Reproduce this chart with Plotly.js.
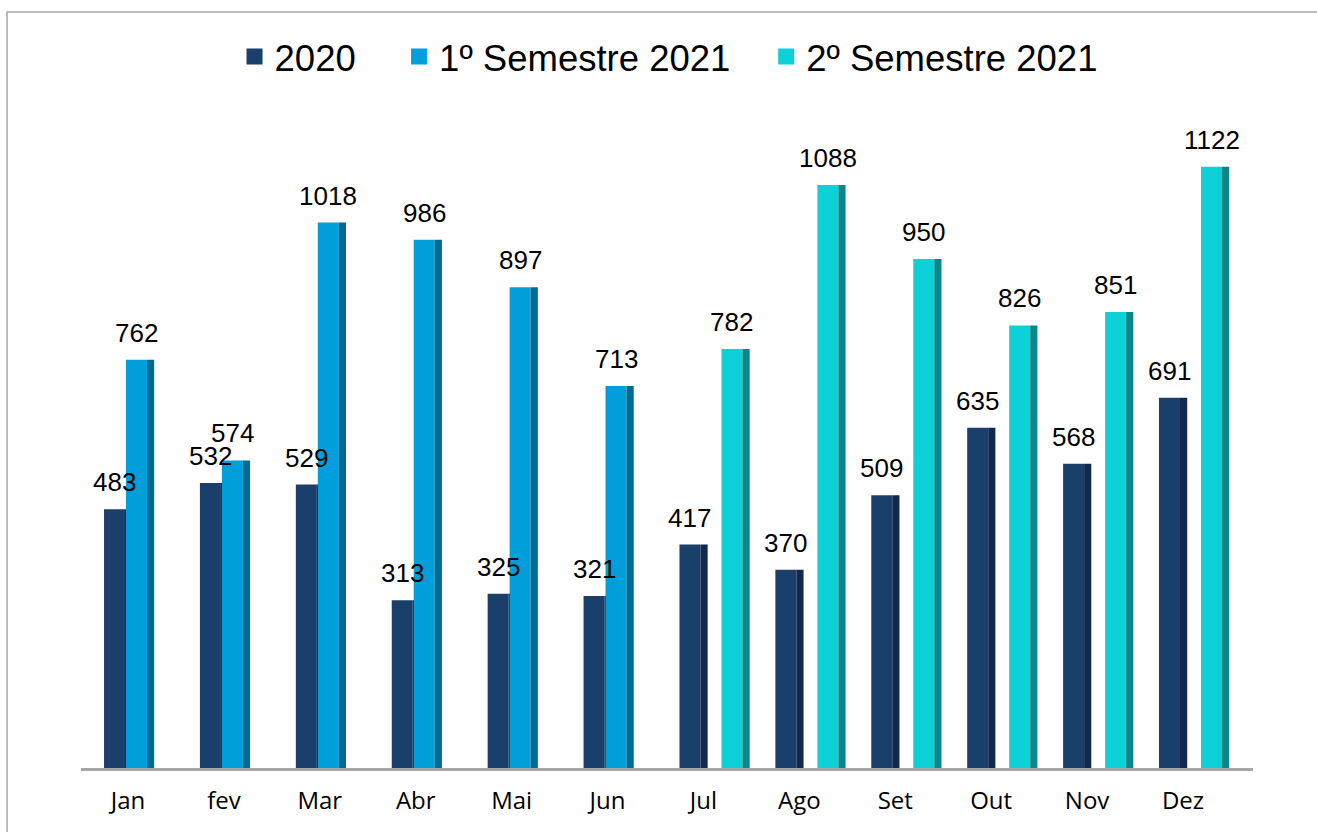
<!DOCTYPE html>
<html>
<head>
<meta charset="utf-8">
<script src="https://cdn.plot.ly/plotly-3.0.1.min.js"></script>
<style>html,body{margin:0;padding:0;background:#fff;}#chart{width:1317px;height:832px;}</style>
</head>
<body>
<div id="chart"></div>
<script>
// ---- data ----
const months = ["Jan","fev","Mar","Abr","Mai","Jun","Jul","Ago","Set","Out","Nov","Dez"];
const seriesNames = ["2020","1º Semestre 2021","2º Semestre 2021"];
const v2020 = [483,532,529,313,325,321,417,370,509,635,568,691];
const v2021s1 = [762,574,1018,986,897,713,null,null,null,null,null,null];
const v2021s2 = [null,null,null,null,null,null,782,1088,950,826,851,1122];

// ---- style ----
const faceColors = ["#1a3f6b","#009fdb","#0cd1d9"];
const sideColors = ["#112a4a","#006b8e","#0a8788"];
const faceOffsets = [-0.250,-0.021,0.188];
const faceW = 0.219, sideW = 0.075;
const legendIds = ["legend","legend2","legend3"];
const legendX = [0.131, 0.2714, 0.5846];

const xs = months.map((m,i)=>i);
const allSeries = [v2020, v2021s1, v2021s2];
const traces = [];
const annotations = [];
allSeries.forEach((vals,s)=>{
  traces.push({type:"bar", x:xs, y:vals, offset:faceOffsets[s], width:faceW,
    marker:{color:faceColors[s], line:{width:0}}, showlegend:false, hoverinfo:"y"});
  traces.push({type:"bar", x:xs, y:vals, offset:faceOffsets[s]+faceW, width:sideW,
    marker:{color:sideColors[s], line:{width:0}}, showlegend:false, hoverinfo:"skip"});
  vals.forEach((v,i)=>{
    if(v===null) return;
    annotations.push({x:i+faceOffsets[s]+faceW/2, y:v, xref:"x", yref:"y", text:String(v),
      showarrow:false, yanchor:"bottom", xanchor:"center", yshift:10,
      font:{family:"Liberation Sans, Arial", size:26, color:"#000"}});
  });
});
// legend entries
seriesNames.forEach((n,s)=>{
  traces.push({type:"scatter", mode:"markers", x:[null], y:[null], name:n, legend:legendIds[s],
    marker:{symbol:"square", size:20, color:faceColors[s]}, showlegend:true, hoverinfo:"skip"});
});

const legendBase = {orientation:"h", xanchor:"left", y:1.106, yanchor:"middle",
    font:{family:"Liberation Sans, Arial", size:36.5, color:"#000"},
    itemsizing:"trace", bgcolor:"rgba(0,0,0,0)"};

const layout = {
  width:1317, height:832,
  margin:{l:81, r:64, t:125, b:64},
  paper_bgcolor:"#ffffff", plot_bgcolor:"#ffffff",
  barmode:"overlay",
  showlegend:true,
  legend:Object.assign({}, legendBase, {x:legendX[0]}),
  legend2:Object.assign({}, legendBase, {x:legendX[1]}),
  legend3:Object.assign({}, legendBase, {x:legendX[2]}),
  xaxis:{range:[-0.49,11.73], tickvals:xs, ticktext:months, showgrid:false, zeroline:false,
    showline:true, linecolor:"#a6a6a6", linewidth:2.5, ticks:"", fixedrange:true,
    ticklabelstandoff:10,
    tickfont:{family:"Open Sans, Noto Sans, Arial", size:24, color:"#000"}},
  yaxis:{range:[0,1200], showgrid:false, zeroline:false, showticklabels:false, showline:false, ticks:"", fixedrange:true},
  annotations:annotations,
  shapes:[{type:"rect", xref:"paper", yref:"paper", x0:-0.0631, x1:1.07, y0:-0.12, y1:1.1757,
    line:{color:"#a6a6a6", width:1.5}, fillcolor:"rgba(0,0,0,0)", layer:"below"}]
};
Plotly.newPlot("chart", traces, layout, {displayModeBar:false, staticPlot:true});
</script>
</body>
</html>
